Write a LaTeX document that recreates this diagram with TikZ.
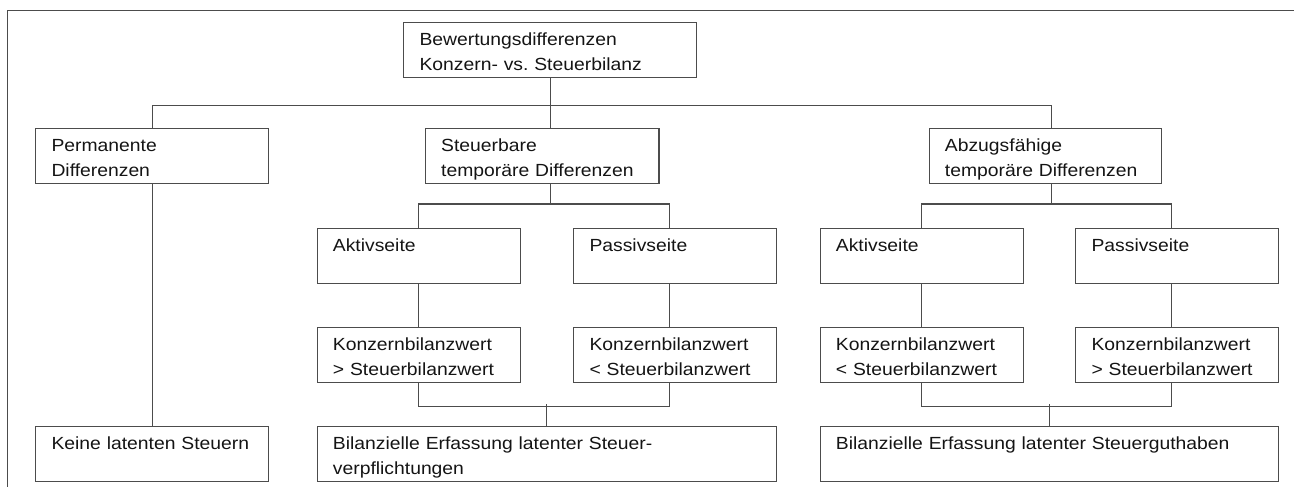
\documentclass[tikz,border=0pt]{standalone}
\usepackage{fontspec}
\setmainfont{Liberation Sans}[FakeStretch=1.1]
\usetikzlibrary{calc}
\frenchspacing

\begin{document}
\begin{tikzpicture}[x=0.02cm, y=-0.02cm, every node/.style={font=\fontsize{10}{14.23}\selectfont, text=black!92}, box/.style={draw=black!70, line width=0.6pt, anchor=north west, align=left, inner xsep=0.314cm, inner ysep=0pt, text width=#1cm-0.628cm, text height=0.46cm, text depth=0.64cm}, link/.style={draw=black!70, line width=0.6pt}]
  \useasboundingbox (0,0) rectangle (1294,487);
  \draw[link] (1294,10.7) -- (7.3,10.7) -- (7.3,487);
  \node[box=5.85](top) at (403.3,22.3){Bewertungsdifferenzen\\Konzern- vs. Steuerbilanz};
  \node[box=4.65](perm) at (35.3,128){Permanente\\Differenzen};
  \node[box=4.67](steu) at (425,128){Steuerbare\\temporäre Differenzen};
  \node[box=4.64](abz) at (928.7,128){Abzugsfähige\\temporäre Differenzen};
  \node[box=4.06](aktL) at (316.7,227.7){Aktivseite};
  \node[box=4.05](pasL) at (573.3,227.7){Passivseite};
  \node[box=4.06](aktR) at (819.7,227.7){Aktivseite};
  \node[box=4.06](pasR) at (1075.3,227.7){Passivseite};
  \node[box=4.06](kwAL) at (316.7,327.3){Konzernbilanzwert\\> Steuerbilanzwert};
  \node[box=4.05](kwPL) at (573.3,327.3){Konzernbilanzwert\\< Steuerbilanzwert};
  \node[box=4.06](kwAR) at (819.7,327.3){Konzernbilanzwert\\< Steuerbilanzwert};
  \node[box=4.06](kwPR) at (1075.3,327.3){Konzernbilanzwert\\> Steuerbilanzwert};
  \node[box=4.65](keine) at (35.3,426.3){Keine latenten Steuern};
  \node[box=9.18](bilL) at (316.7,426.3){Bilanzielle Erfassung latenter Steuer-\\verpflichtungen};
  \node[box=9.17](bilR) at (819.7,426.3){Bilanzielle Erfassung latenter Steuerguthaben};

  \draw[link] (top.south) -- (top.south |- steu.north);
  \draw[link] (perm.north) -- ++(0,-22.3) -| ($(abz.north)+(6,0)$);
  \draw[link] (perm.south) -- (keine.north);

  \draw[link] (top.south |- steu.south) -- ++(0,21);
  \draw[link] (aktL.north) -- ++(0,-23.7) -| ($(pasL.north)+(-6,0)$);
  \draw[link] (aktL.south) -- (kwAL.north);
  \draw[link] ($(pasL.south)+(-6,0)$) -- ($(kwPL.north)+(-6,0)$);
  \draw[link] (kwAL.south) -- ++(0,22.7) -| ($(kwPL.south)+(-6,0)$);
  \draw[link] (bilL.north) -- ++(0,-22.3);

  \draw[link] ($(abz.south)+(6,0)$) -- ++(0,21);
  \draw[link] (aktR.north) -- ++(0,-23.7) -| ($(pasR.north)+(-6,0)$);
  \draw[link] (aktR.south) -- (kwAR.north);
  \draw[link] ($(pasR.south)+(-6,0)$) -- ($(kwPR.north)+(-6,0)$);
  \draw[link] (kwAR.south) -- ++(0,22.7) -| ($(kwPR.south)+(-6,0)$);
  \draw[link] (bilR.north) -- ++(0,-22.3);
\end{tikzpicture}
\end{document}
